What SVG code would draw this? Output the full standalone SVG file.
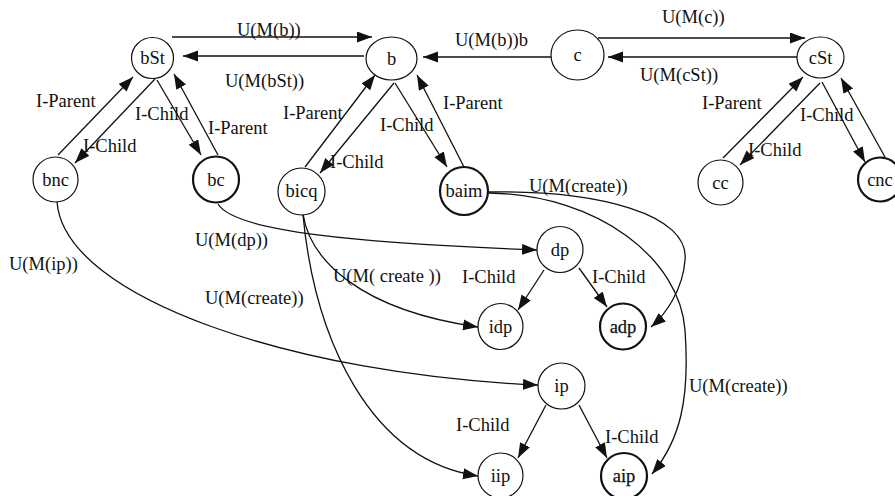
<svg xmlns="http://www.w3.org/2000/svg" width="895" height="496" viewBox="0 0 895 496">
  <style>
    text { font-family: 'Liberation Serif', 'Times New Roman', Times, serif; font-size: 18.5px; fill: #111; }
    .node ellipse { fill: #fff; stroke: #111; stroke-width: 1.2; }
    .node.thick ellipse { stroke-width: 2.2; }
    .node text { text-anchor: middle; }
    .node text.heavy { stroke: #111; stroke-width: 0.25; }
    .edge { fill: none; stroke: #111; stroke-width: 1.3; marker-end: url(#arrow); }
  </style>
  <defs>
    <marker id="arrow" markerUnits="userSpaceOnUse" markerWidth="16" markerHeight="12" refX="15" refY="5.5" orient="auto">
      <path d="M0,0 L15,5.5 L0,11 Z" fill="#111"/>
    </marker>
  </defs>

  <rect width="895" height="496" fill="#fff"/>

  <!-- connectors -->
  <g id="connectors">
    <!-- horizontal update links -->
    <path class="edge" d="M172,37 L372,37"/>
    <path class="edge" d="M364,56 L183,56"/>
    <path class="edge" d="M551,57 L423,57"/>
    <path class="edge" d="M598,38 L805,38"/>
    <path class="edge" d="M797,57 L608,57"/>

    <!-- bSt parent/child links -->
    <path class="edge" d="M58,155 L133,77"/>
    <path class="edge" d="M155,79 L75,163"/>
    <path class="edge" d="M157,80 L201,155"/>
    <path class="edge" d="M218,155 L174,74"/>

    <!-- b parent/child links -->
    <path class="edge" d="M305,167 L375,75"/>
    <path class="edge" d="M394,83 L320,173"/>
    <path class="edge" d="M395,83 L447,167"/>
    <path class="edge" d="M464,167 L417,75"/>

    <!-- cSt parent/child links -->
    <path class="edge" d="M723,158 L803,77"/>
    <path class="edge" d="M820,83 L740,165"/>
    <path class="edge" d="M822,82 L865,162"/>
    <path class="edge" d="M885,157 L841,78"/>

    <!-- dp / ip children -->
    <path class="edge" d="M544,270 L518,310"/>
    <path class="edge" d="M579,268 L607,307"/>
    <path class="edge" d="M546,405 L518,458"/>
    <path class="edge" d="M579,405 L607,458"/>

    <!-- long U(M(...)) links -->
    <path class="edge" d="M218,204 C235,232 360,243 537,250"/>
    <path class="edge" d="M57,202 C65,300 300,375 538,385"/>
    <path class="edge" d="M303,214 C310,260 360,310 478,327"/>
    <path class="edge" d="M303,215 C315,340 370,460 478,476"/>
    <path class="edge" d="M489,192 C600,190 690,215 685,260 C683,290 665,315 651,327"/>
    <path class="edge" d="M489,193 C600,195 680,260 685,330 C690,400 680,440 652,474"/>
  </g>

  <!-- edge labels -->
  <g id="labels">
    <text x="237" y="36">U(M(b))</text>
    <text x="225" y="87">U(M(bSt))</text>
    <text x="455" y="46">U(M(b))b</text>
    <text x="662" y="23">U(M(c))</text>
    <text x="640" y="81">U(M(cSt))</text>
    <text x="36" y="107">I-Parent</text>
    <text x="83" y="152">I-Child</text>
    <text x="135" y="120">I-Child</text>
    <text x="208" y="134">I-Parent</text>
    <text x="283" y="119">I-Parent</text>
    <text x="380" y="131">I-Child</text>
    <text x="330" y="168">I-Child</text>
    <text x="443" y="109">I-Parent</text>
    <text x="702" y="109">I-Parent</text>
    <text x="800" y="121">I-Child</text>
    <text x="748" y="156">I-Child</text>
    <text x="529" y="192">U(M(create))</text>
    <text x="462" y="283">I-Child</text>
    <text x="592" y="283">I-Child</text>
    <text x="456" y="431">I-Child</text>
    <text x="605" y="443">I-Child</text>
    <text x="689" y="392">U(M(create))</text>
    <text x="195" y="246">U(M(dp))</text>
    <text x="205" y="304">U(M(create))</text>
    <text x="333" y="282">U(M( create ))</text>
    <text x="9" y="270">U(M(ip))</text>
  </g>

  <!-- nodes -->
  <g id="node-bSt" class="node"><ellipse cx="152.5" cy="58" rx="21" ry="20.5"/><text x="152.5" y="64">bSt</text></g>
  <g id="node-b" class="node"><ellipse cx="391.5" cy="58.5" rx="25.5" ry="21.5"/><text x="391.5" y="65">b</text></g>
  <g id="node-c" class="node"><ellipse cx="577.5" cy="55" rx="26.5" ry="25"/><text x="577.5" y="61">c</text></g>
  <g id="node-cSt" class="node"><ellipse cx="820.5" cy="57.5" rx="23.5" ry="20.5"/><text x="820.5" y="64">cSt</text></g>
  <g id="node-bnc" class="node"><ellipse cx="55.5" cy="179.5" rx="22.5" ry="22.5"/><text x="55.5" y="186">bnc</text></g>
  <g id="node-bc" class="node thick"><ellipse cx="216" cy="179.5" rx="23" ry="23"/><text x="216" y="186">bc</text></g>
  <g id="node-bicq" class="node"><ellipse cx="301.5" cy="191.5" rx="23.5" ry="23.5"/><text x="301.5" y="197">bicq</text></g>
  <g id="node-baim" class="node thick"><ellipse cx="464" cy="191" rx="24" ry="24"/><text x="464" y="197">baim</text></g>
  <g id="node-cc" class="node"><ellipse cx="720.5" cy="182.5" rx="22.5" ry="22.5"/><text x="720.5" y="189">cc</text></g>
  <g id="node-cnc" class="node thick"><ellipse cx="880" cy="179.5" rx="22" ry="22"/><text x="880" y="186">cnc</text></g>
  <g id="node-dp" class="node"><ellipse cx="560" cy="249.5" rx="23" ry="23"/><text x="560" y="256">dp</text></g>
  <g id="node-idp" class="node"><ellipse cx="500.5" cy="326.5" rx="22.5" ry="23"/><text x="500.5" y="333">idp</text></g>
  <g id="node-adp" class="node thick"><ellipse cx="623" cy="326.5" rx="23" ry="23"/><text class="heavy" x="623" y="333">adp</text></g>
  <g id="node-ip" class="node"><ellipse cx="561.5" cy="386" rx="23.5" ry="23"/><text x="561.5" y="392">ip</text></g>
  <g id="node-iip" class="node"><ellipse cx="500.5" cy="475.5" rx="22.5" ry="22.5"/><text x="500.5" y="482">iip</text></g>
  <g id="node-aip" class="node thick"><ellipse cx="624" cy="476" rx="23" ry="23"/><text class="heavy" x="624" y="482">aip</text></g>
</svg>
